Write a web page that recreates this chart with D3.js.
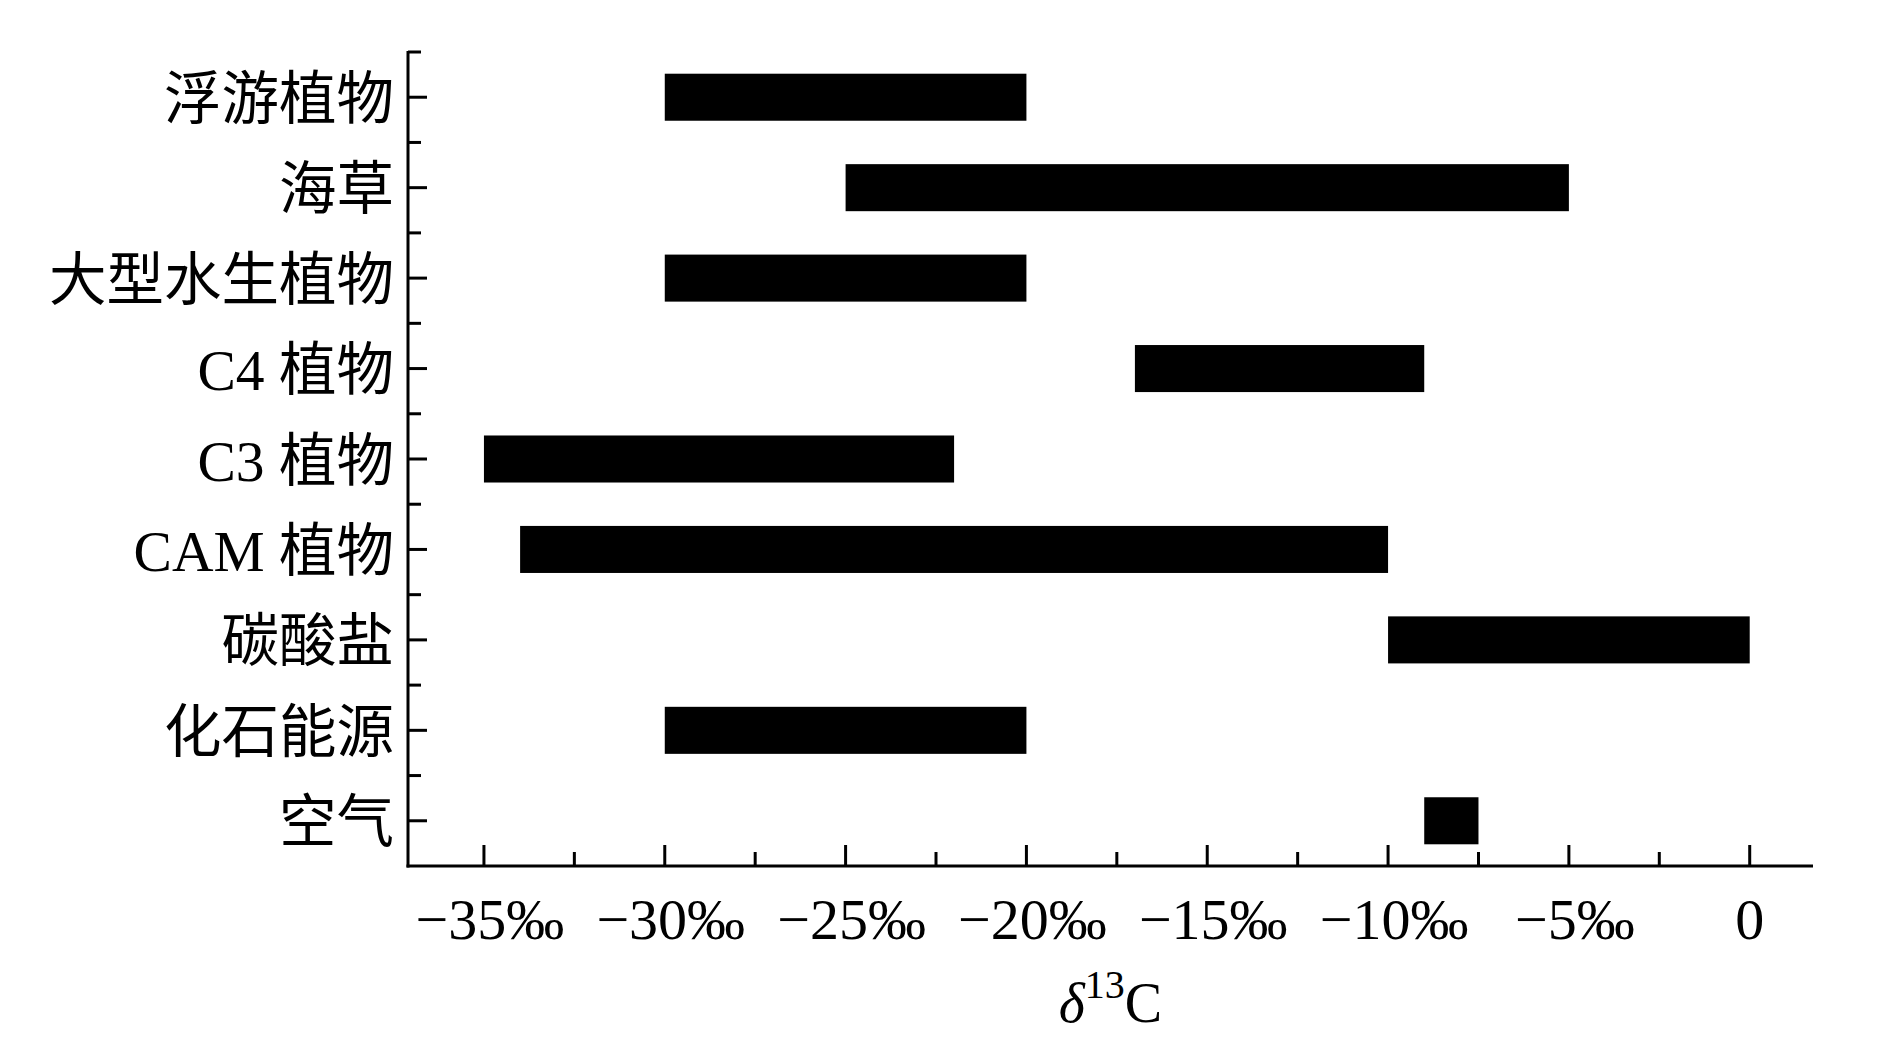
<!DOCTYPE html>
<html>
<head>
<meta charset="utf-8">
<script src="https://cdn.jsdelivr.net/npm/d3@7"></script>
<style>
  html, body { margin: 0; padding: 0; background: #fff; }
  svg { display: block; }
</style>
</head>
<body>
<svg id="chart" width="1887" height="1062"></svg>
<script>
// ---- data ----
const categories = ["浮游植物", "海草", "大型水生植物", "C4 植物", "C3 植物", "CAM 植物", "碳酸盐", "化石能源", "空气"];
const rangeLow  = [-30, -25, -30, -17, -35, -34, -10, -30, -9];
const rangeHigh = [-20,  -5, -20,  -9, -22, -10,   0, -20, -7.5];
const majorTicks = [-35, -30, -25, -20, -15, -10, -5, 0];
const minorTicks = [-32.5, -27.5, -22.5, -17.5, -12.5, -7.5, -2.5];
const tickLabels = ["−35‰", "−30‰", "−25‰", "−20‰", "−15‰", "−10‰", "−5‰", "0"];

// ---- layout ----
const svg = d3.select("#chart");
const mLeft = 408, mRight = 1813, mTop = 52, mBottom = 866;
const FONT = "'Liberation Serif', 'Noto Sans CJK SC', serif";

const x = d3.scaleLinear().domain([-37.1, 1.75]).range([mLeft, mRight]);
const y = d3.scaleBand().domain(categories).range([mTop, mBottom]).padding(0);
const bw = y.bandwidth();

// bars
const rows = categories.map((c, i) => ({ c, lo: rangeLow[i], hi: rangeHigh[i] }));
svg.append("g").selectAll("rect").data(rows).join("rect")
  .attr("x", d => x(d.lo))
  .attr("width", d => x(d.hi) - x(d.lo))
  .attr("y", d => y(d.c) + bw * 0.24)
  .attr("height", bw * 0.52)
  .attr("fill", "#000");

const axisG = svg.append("g").attr("stroke", "#000").attr("stroke-width", 3);
// axis lines
axisG.append("line").attr("x1", mLeft).attr("x2", mLeft).attr("y1", mTop - 1).attr("y2", mBottom + 1.5);
axisG.append("line").attr("x1", mLeft - 1.5).attr("x2", mRight).attr("y1", mBottom).attr("y2", mBottom);

// y ticks: major at band centres, minor at band boundaries
axisG.selectAll(".ymaj").data(categories).join("line")
  .attr("x1", mLeft).attr("x2", mLeft + 19)
  .attr("y1", d => y(d) + bw / 2).attr("y2", d => y(d) + bw / 2);
axisG.selectAll(".ymin").data(categories).join("line")
  .attr("x1", mLeft).attr("x2", mLeft + 13)
  .attr("y1", d => y(d)).attr("y2", d => y(d));

// x ticks (inward)
axisG.selectAll(".xmaj").data(majorTicks).join("line")
  .attr("x1", d => x(d)).attr("x2", d => x(d))
  .attr("y1", mBottom).attr("y2", mBottom - 21);
axisG.selectAll(".xmin").data(minorTicks).join("line")
  .attr("x1", d => x(d)).attr("x2", d => x(d))
  .attr("y1", mBottom).attr("y2", mBottom - 14);

// y labels
svg.append("g").selectAll("text").data(categories).join("text")
  .attr("x", mLeft - 14)
  .attr("y", d => y(d) + bw / 2 + 2)
  .attr("text-anchor", "end")
  .attr("dominant-baseline", "central")
  .attr("font-family", FONT)
  .attr("font-size", 57.5)
  .attr("fill", "#000")
  .text(d => d);

// x tick labels
svg.append("g").selectAll("text").data(majorTicks).join("text")
  .attr("x", d => x(d) + (d === 0 ? 0 : 6))
  .attr("y", mBottom + 73)
  .attr("text-anchor", "middle")
  .attr("font-family", FONT)
  .attr("font-size", 58)
  .attr("fill", "#000")
  .text((d, i) => tickLabels[i]);

// axis title δ13C
const title = svg.append("text")
  .attr("x", (mLeft + mRight) / 2)
  .attr("y", 1022)
  .attr("text-anchor", "middle")
  .attr("font-family", FONT)
  .attr("font-size", 56)
  .attr("fill", "#000");
title.append("tspan").attr("font-style", "italic").text("δ");
title.append("tspan").attr("font-size", 40).attr("dy", -24).text("13");
title.append("tspan").attr("dy", 24).text("C");
</script>
</body>
</html>
